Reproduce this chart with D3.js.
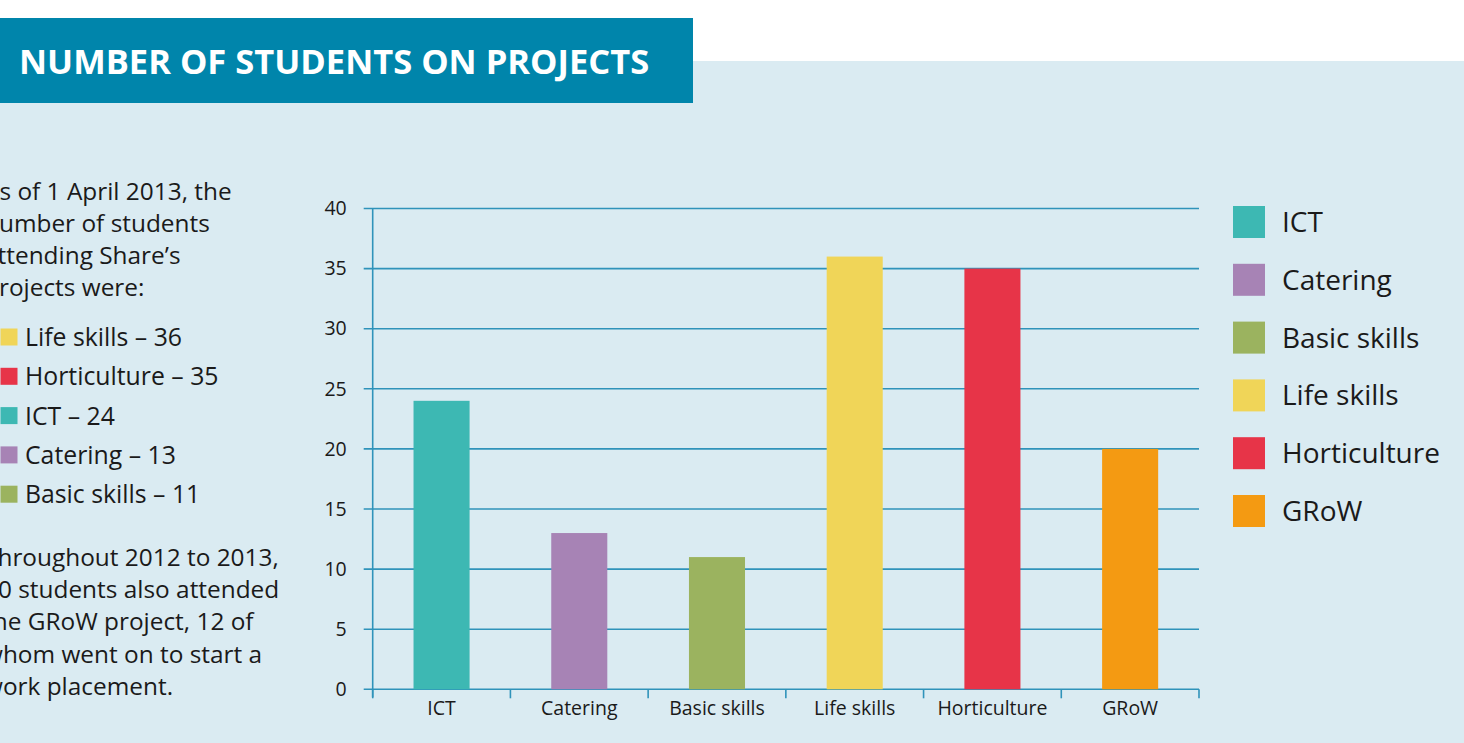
<!DOCTYPE html>
<meta charset="utf-8">
<script src="https://d3js.org/d3.v7.min.js"></script>
<style>
  body { margin: 0; background: #fff; }
  text { font-family: "Open Sans", Lato, sans-serif; }
</style>
<div id="my_dataviz"></div>
<script>

// data
var categories = ["ICT", "Catering", "Basic skills", "Life skills", "Horticulture", "GRoW"];
var students = [24, 13, 11, 36, 35, 20];
var colours = ["#3db8b3", "#a783b5", "#9bb35f", "#f0d558", "#e73448", "#f49a12"];
var yTicks = [0, 5, 10, 15, 20, 25, 30, 35, 40];

// side notes
var introLines = ["As of 1 April 2013, the", "number of students", "attending Share\u2019s", "projects were:"];
var bulletOrder = ["Life skills", "Horticulture", "ICT", "Catering", "Basic skills"];
var growLines = ["Throughout 2012 to 2013,", "20 students also attended", "the GRoW project, 12 of", "whom went on to start a", "work placement."];

var W = 1464, H = 743;
var axisBlue = "#2f93ba";

var svg = d3.select("#my_dataviz")
  .append("svg")
    .attr("width", W)
    .attr("height", H);

// panel background and title box
svg.append("rect")
    .attr("x", 0).attr("y", 61)
    .attr("width", W).attr("height", H - 61)
    .style("fill", "#daebf2");
svg.append("rect")
    .attr("x", 0).attr("y", 18)
    .attr("width", 693).attr("height", 85)
    .style("fill", "#0085ab");
svg.append("text")
    .attr("x", 19)
    .attr("y", 73.5)
    .text("NUMBER OF STUDENTS ON PROJECTS")
    .style("fill", "#fff")
    .style("font-weight", "bold")
    .style("font-size", "34.5px");

// chart area
var plotLeft = 372.7, plotRight = 1199, plotTop = 208.5, plotBottom = 689.3;

var x = d3.scaleBand()
  .domain(categories)
  .range([plotLeft, plotRight]);

var y = d3.scaleLinear()
  .domain([0, 40])
  .range([plotBottom, plotTop]);

// horizontal grid lines
svg.append("g")
  .selectAll("line")
  .data(yTicks)
  .enter()
  .append("line")
    .attr("x1", plotLeft - 9)
    .attr("x2", plotRight)
    .attr("y1", function(d) { return y(d); })
    .attr("y2", function(d) { return y(d); })
    .style("stroke", axisBlue)
    .style("stroke-width", 1.6);

// Y axis
var yAxis = svg.append("g")
    .attr("transform", "translate(" + plotLeft + ",0)")
    .call(d3.axisLeft(y).tickValues(yTicks).tickSize(9).tickPadding(17));
yAxis.select(".domain").remove();
yAxis.selectAll("line").remove();
yAxis.selectAll("text")
    .style("font-size", "19.5px")
    .style("fill", "#1a1a1a");

svg.append("line")
    .attr("x1", plotLeft).attr("x2", plotLeft)
    .attr("y1", plotTop).attr("y2", plotBottom + 8)
    .style("stroke", axisBlue)
    .style("stroke-width", 1.6);

// X axis labels
var xAxis = svg.append("g")
    .attr("transform", "translate(0," + plotBottom + ")")
    .call(d3.axisBottom(x).tickSize(0).tickPadding(12));
xAxis.select(".domain").remove();
xAxis.selectAll("text")
    .style("font-size", "19.5px")
    .style("fill", "#1a1a1a");

// X boundary ticks
var boundaries = categories.map(function(d) { return x(d); }).concat([plotRight]);
svg.append("g")
  .selectAll("line")
  .data(boundaries)
  .enter()
  .append("line")
    .attr("x1", function(d) { return d; })
    .attr("x2", function(d) { return d; })
    .attr("y1", plotBottom)
    .attr("y2", plotBottom + 9)
    .style("stroke", axisBlue)
    .style("stroke-width", 1.6);

// bars
var barW = x.bandwidth() * 0.407;
svg.append("g")
  .selectAll("rect")
  .data(categories)
  .enter()
  .append("rect")
    .attr("x", function(d) { return x(d) + (x.bandwidth() - barW) / 2; })
    .attr("y", function(d, i) { return y(students[i]); })
    .attr("width", barW)
    .attr("height", function(d, i) { return plotBottom - y(students[i]); })
    .style("fill", function(d, i) { return colours[i]; });

// legend on the right
var legend = svg.append("g")
  .selectAll("g")
  .data(categories)
  .enter()
  .append("g")
    .attr("transform", function(d, i) { return "translate(1233," + (206 + i * 57.8) + ")"; });
legend.append("rect")
    .attr("width", 32).attr("height", 32)
    .style("fill", function(d, i) { return colours[i]; });
legend.append("text")
    .attr("x", 49)
    .attr("y", 16)
    .attr("dy", "0.36em")
    .text(function(d) { return d; })
    .style("font-size", "28px")
    .style("fill", "#1a1a1a");

// left notes (cut at the left edge as in the original)
var noteX = -16;
svg.append("g")
  .selectAll("text")
  .data(introLines)
  .enter()
  .append("text")
    .attr("x", noteX)
    .attr("y", function(d, i) { return 200 + i * 32; })
    .text(function(d) { return d; })
    .style("font-size", "24.4px")
    .style("fill", "#1a1a1a");

var bullets = svg.append("g")
  .selectAll("g")
  .data(bulletOrder)
  .enter()
  .append("g")
    .attr("transform", function(d, i) { return "translate(0," + (337 + i * 39.3) + ")"; });
bullets.append("rect")
    .attr("x", 0.5).attr("y", -8.5)
    .attr("width", 17).attr("height", 17)
    .style("fill", function(d) { return colours[categories.indexOf(d)]; });
bullets.append("text")
    .attr("x", 25)
    .attr("dy", "0.36em")
    .text(function(d) { return d + " \u2013 " + students[categories.indexOf(d)]; })
    .style("font-size", "24.8px")
    .style("fill", "#1a1a1a");

svg.append("g")
  .selectAll("text")
  .data(growLines)
  .enter()
  .append("text")
    .attr("x", noteX)
    .attr("y", function(d, i) { return 566 + i * 32.2; })
    .text(function(d) { return d; })
    .style("font-size", "24.4px")
    .style("fill", "#1a1a1a");

</script>
